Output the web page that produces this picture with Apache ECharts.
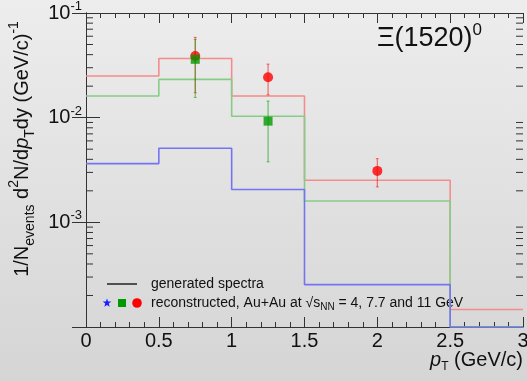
<!DOCTYPE html>
<html><head><meta charset="utf-8">
<script src="https://cdn.jsdelivr.net/npm/echarts@6/dist/echarts.min.js"></script>
<style>html,body{margin:0;padding:0;}#c{width:527px;height:381px;background:linear-gradient(#ededed,#d5d5d5);}</style>
</head><body><div id="c"></div>
<script>
// bin edges (pT, GeV/c)
const binEdges = [0, 0.5, 1, 1.5, 2.5, 3];
// generated spectra (histograms); last green/blue bins are empty (drawn at axis floor)
const genRed   = [0.0250, 0.0368, 0.0161, 0.00252, 1.47e-4];
const genGreen = [0.0161, 0.0232, 0.0103, 0.00160, 1.0e-4];
const genBlue  = [0.00364, 0.00510, 0.00206, 2.54e-4, 1.0e-4];
// reconstructed points
const redX = [0.75, 1.25, 2.0];
const redY = [0.0388, 0.0243, 0.00310];
const redLo = [0.0173, 0.0165, 0.00218];
const redHi = [0.0585, 0.0325, 0.00406];
const greenX = [0.75, 1.25];
const greenY = [0.0361, 0.00927];
const greenLo = [0.0156, 0.00378];
const greenHi = [0.0559, 0.0144];
// axis
const xMin = 0, xMax = 3, xInterval = 0.5;
const yMin = 1e-4, yMax = 1e-1;

const FONT = 'Liberation Sans';
const minorY = [];
for (let e = -4; e < -1; e++) for (let m = 2; m <= 9; m++) minorY.push([xMin, m * Math.pow(10, e)]);

function stepData(vals) {
  const d = vals.map((v, i) => [binEdges[i], v]);
  d.push([binEdges[binEdges.length - 1], vals[vals.length - 1]]);
  return d;
}
function errData(xs, lo, hi) { return xs.map((x, i) => [x, lo[i], hi[i]]); }
function errSeries(data, col) {
  return {
    type: 'custom', data: data, encode: { x: 0, y: [1, 2] }, z: 5, silent: true,
    renderItem: function (params, api) {
      const x = api.value(0), lo = api.value(1), hi = api.value(2);
      const p1 = api.coord([x, hi]), p2 = api.coord([x, lo]);
      return { type: 'group', children: [
        { type: 'line', shape: { x1: p1[0], y1: p1[1], x2: p2[0], y2: p2[1] }, style: { stroke: col, lineWidth: 1.2 } },
        { type: 'line', shape: { x1: p1[0] - 1.5, y1: p1[1], x2: p1[0] + 1.5, y2: p1[1] }, style: { stroke: col, lineWidth: 1 } },
        { type: 'line', shape: { x1: p2[0] - 1.5, y1: p2[1], x2: p2[0] + 1.5, y2: p2[1] }, style: { stroke: col, lineWidth: 1 } }
      ]};
    }
  };
}
function hist(vals, col, z) {
  return { type: 'line', step: 'end', data: stepData(vals), symbol: 'none', silent: true,
    lineStyle: { color: col, width: 1.6 }, z: z };
}
function starPoints(cx, cy, r, r0) {
  const pts = [];
  for (let i = 0; i < 10; i++) {
    const a = -Math.PI / 2 + i * Math.PI / 5;
    const rr = i % 2 ? r0 : r;
    pts.push([cx + rr * Math.cos(a), cy + rr * Math.sin(a)]);
  }
  return pts;
}

const axisLine = { show: true, lineStyle: { color: '#333', width: 1 } };
const chart = echarts.init(document.getElementById('c'), null, { renderer: 'canvas' });
chart.setOption({
  animation: false,
  grid: { left: 86, right: 4, top: 13, bottom: 54, containLabel: false, outerBoundsMode: 'none' },
  xAxis: [
    { type: 'value', min: xMin, max: xMax, interval: xInterval, position: 'bottom',
      axisLine: axisLine, splitLine: { show: false },
      axisTick: { inside: true, length: 10, lineStyle: { color: '#333' } },
      minorTick: { show: true, splitNumber: 5, length: 5, lineStyle: { color: '#333' } },
      axisLabel: { fontSize: 20, fontFamily: FONT, color: '#111', margin: 4, hideOverlap: false,
        formatter: v => String(v) } },
    { type: 'value', min: xMin, max: xMax, interval: xInterval, position: 'top',
      axisLine: axisLine, splitLine: { show: false },
      axisTick: { inside: true, length: 10, lineStyle: { color: '#333' } },
      minorTick: { show: true, splitNumber: 5, length: 5, lineStyle: { color: '#333' } },
      axisLabel: { show: false } }
  ],
  yAxis: [
    { type: 'log', logBase: 10, min: yMin, max: yMax, position: 'left',
      axisLine: axisLine, splitLine: { show: false },
      axisTick: { inside: true, length: 14, lineStyle: { color: '#333' } },
      minorTick: { show: false },
      axisLabel: { showMinLabel: false, margin: 4, color: '#111',
        formatter: v => '{b|10}{s|' + Math.round(Math.log10(v)) + '}',
        rich: { b: { fontSize: 20, fontFamily: FONT, color: '#111', lineHeight: 26 },
                s: { fontSize: 13, fontFamily: FONT, color: '#111', verticalAlign: 'top', lineHeight: 14 } } } },
    { type: 'log', logBase: 10, min: yMin, max: yMax, position: 'right',
      axisLine: axisLine, splitLine: { show: false },
      axisTick: { inside: true, length: 14, lineStyle: { color: '#333' } },
      axisLabel: { show: false } }
  ],
  series: [
    { type: 'custom', data: minorY, encode: { x: 0, y: 1 }, silent: true, z: 1,
      renderItem: function (params, api) {
        const v = api.value(1);
        const a = api.coord([xMin, v]), b = api.coord([xMax, v]);
        return { type: 'group', children: [
          { type: 'line', shape: { x1: a[0], y1: a[1], x2: a[0] + 7, y2: a[1] }, style: { stroke: '#333', lineWidth: 1 } },
          { type: 'line', shape: { x1: b[0] - 7, y1: b[1], x2: b[0], y2: b[1] }, style: { stroke: '#333', lineWidth: 1 } }
        ]};
      } },
    hist(genRed, '#f48c8c', 2),
    hist(genGreen, '#86cc86', 3),
    hist(genBlue, '#7474f2', 4),
    errSeries(errData(redX, redLo, redHi), 'rgba(255,0,0,0.55)'),
    errSeries(errData(greenX, greenLo, greenHi), 'rgba(0,160,0,0.55)'),
    { type: 'scatter', data: redX.map((x, i) => [x, redY[i]]), symbol: 'circle', symbolSize: 10,
      itemStyle: { color: '#ff0000' }, z: 6, silent: true },
    { type: 'scatter', data: greenX.map((x, i) => [x, greenY[i]]), symbol: 'rect', symbolSize: 9,
      itemStyle: { color: '#009900' }, z: 7, silent: true }
  ],
  graphic: [
    { type: 'text', x: 22, y: 149, rotation: Math.PI / 2,
      style: { text: '{n|1/N}{sb|events}{n| d}{sp|2}{n|N/d}{i|p}{sb|T}{n|dy (GeV/c)}{sp|-1}',
        align: 'center', verticalAlign: 'middle',
        rich: {
          n: { fontSize: 20, fontFamily: FONT, fill: '#111', lineHeight: 30 },
          i: { fontSize: 20, fontFamily: FONT, fontStyle: 'italic', fill: '#111', lineHeight: 30 },
          sb: { fontSize: 14, fontFamily: FONT, fill: '#111', verticalAlign: 'bottom', lineHeight: 14 },
          sp: { fontSize: 14, fontFamily: FONT, fill: '#111', verticalAlign: 'top', lineHeight: 14 }
        } } },
    { type: 'text', right: 4, top: 350,
      style: { text: '{i|p}{sb|T}{n| (GeV/c)}',
        rich: {
          n: { fontSize: 20, fontFamily: FONT, fill: '#111', lineHeight: 26 },
          i: { fontSize: 20, fontFamily: FONT, fontStyle: 'italic', fill: '#111', lineHeight: 26 },
          sb: { fontSize: 12, fontFamily: FONT, fill: '#111', verticalAlign: 'bottom', lineHeight: 12 }
        } } },
    { type: 'text', left: 377, top: 22,
      style: { text: '{t|Ξ(1520)}{s|0}',
        rich: {
          t: { fontSize: 27, fontFamily: FONT, fill: '#111', lineHeight: 34 },
          s: { fontSize: 17, fontFamily: FONT, fill: '#111', verticalAlign: 'top', lineHeight: 17 }
        } } },
    { type: 'line', shape: { x1: 107, y1: 284, x2: 137, y2: 284 }, style: { stroke: '#222', lineWidth: 1.5 } },
    { type: 'text', x: 151, y: 284, style: { text: 'generated spectra', fontSize: 14, fontFamily: FONT, fill: '#111', verticalAlign: 'middle' } },
    { type: 'polygon', shape: { points: starPoints(107, 303, 4.5, 1.9) }, style: { fill: '#1f1fff' } },
    { type: 'rect', shape: { x: 118, y: 299, width: 8, height: 8 }, style: { fill: '#009900' } },
    { type: 'circle', shape: { cx: 137, cy: 303, r: 4.8 }, style: { fill: '#ff0000' } },
    { type: 'text', x: 151, y: 303,
      style: { text: '{n|reconstructed, Au+Au at √s}{sb|NN}{n| = 4, 7.7 and 11 GeV}', verticalAlign: 'middle',
        rich: {
          n: { fontSize: 14, fontFamily: FONT, fill: '#111', lineHeight: 18 },
          sb: { fontSize: 10, fontFamily: FONT, fill: '#111', verticalAlign: 'bottom', lineHeight: 10 }
        } } }
  ]
});
</script></body></html>
